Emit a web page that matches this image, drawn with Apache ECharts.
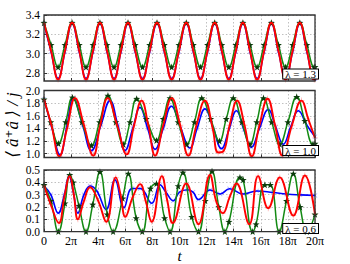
<!DOCTYPE html>
<html><head><meta charset="utf-8">
<script src="https://cdn.jsdelivr.net/npm/echarts@6/dist/echarts.min.js"></script>
<style>html,body{margin:0;padding:0;background:#fff}#c{width:350px;height:264px}</style>
</head><body><div id="c"></div>
<script>
// x in units of pi
const xTicks = [0,2,4,6,8,10,12,14,16,18,20];
const xTickLabels = ['0','2π','4π','6π','8π','10π','12π','14π','16π','18π','20π'];
const yTicks1 = [2.8,3.0,3.2,3.4];
const yTicks2 = [1.0,1.2,1.4,1.6,1.8,2.0];
const yTicks3 = [0.0,0.1,0.2,0.3,0.4,0.5];
const lambdas = ['1.3','1.0','0.6'];

// Panel 1 (lambda = 1.3)
const red1 = [[0,3.32],[0.52,3.03],[1.04,2.73],[1.55,3.03],[2.07,3.32],[2.6,3.03],[3.1,2.73],[3.62,3.03],[4.13,3.32],[4.65,3.03],[5.17,2.73],[5.68,3.03],[6.2,3.32],[6.73,3.03],[7.27,2.73],[7.8,3.03],[8.34,3.32],[8.88,3.03],[9.42,2.73],[9.96,3.03],[10.5,3.32],[11.02,3.03],[11.55,2.73],[12.07,3.03],[12.6,3.32],[13.12,3.03],[13.64,2.73],[14.16,3.03],[14.68,3.32],[15.2,3.03],[15.73,2.73],[16.25,3.03],[16.78,3.32],[17.3,3.03],[17.83,2.73],[18.35,3.03],[18.88,3.32],[19.4,3.03],[19.94,2.73],[20,2.731]];
const blue1 = [[0,3.31],[0.52,3.02],[1.04,2.74],[1.55,3.02],[2.07,3.31],[2.6,3.02],[3.1,2.74],[3.62,3.02],[4.13,3.31],[4.65,3.02],[5.17,2.74],[5.68,3.02],[6.2,3.31],[6.73,3.02],[7.27,2.74],[7.8,3.02],[8.34,3.31],[8.88,3.02],[9.42,2.74],[9.96,3.02],[10.5,3.31],[11.02,3.02],[11.55,2.74],[12.07,3.02],[12.6,3.31],[13.12,3.02],[13.64,2.74],[14.16,3.02],[14.68,3.31],[15.2,3.02],[15.73,2.74],[16.25,3.02],[16.78,3.31],[17.3,3.02],[17.83,2.74],[18.35,3.02],[18.88,3.31],[19.4,3.02],[19.94,2.74],[20,2.741]];
const green1 = [[0,3.32],[0.52,3.09],[1.04,2.86],[1.55,3.09],[2.07,3.32],[2.6,3.09],[3.1,2.86],[3.62,3.09],[4.13,3.32],[4.65,3.09],[5.17,2.86],[5.68,3.09],[6.2,3.32],[6.73,3.09],[7.27,2.86],[7.8,3.09],[8.34,3.32],[8.88,3.09],[9.42,2.86],[9.96,3.09],[10.5,3.32],[11.02,3.09],[11.55,2.86],[12.07,3.09],[12.6,3.32],[13.12,3.09],[13.64,2.86],[14.16,3.09],[14.68,3.32],[15.2,3.09],[15.73,2.86],[16.25,3.09],[16.78,3.32],[17.3,3.09],[17.83,2.86],[18.35,3.09],[18.88,3.32],[19.4,3.09],[19.94,2.86],[20,2.861]];

// Panel 2 (lambda = 1.0)
const red2 = [[0,1.86],[0.55,1.45],[1.13,0.96],[1.7,1.4],[2.29,1.88],[2.95,1.45],[3.64,0.97],[4.15,1.45],[4.7,1.88],[5.4,1.45],[6.1,0.99],[6.65,1.45],[7.2,1.84],[7.7,1.45],[8.2,0.97],[8.8,1.45],[9.42,1.88],[10.05,1.45],[10.65,0.97],[11.25,1.45],[11.87,1.84],[12.45,1.4],[12.85,1.02],[13.2,1.03],[13.7,1.45],[14.25,1.84],[14.8,1.45],[15.33,0.96],[15.9,1.45],[16.5,1.87],[17.05,1.45],[17.6,0.97],[18.3,1.45],[19.0,1.84],[19.5,1.55],[20,1.25]];
const blue2 = [[0,1.86],[0.6,1.4],[1.18,0.98],[1.7,1.45],[2.16,1.88],[2.85,1.45],[3.5,1.05],[4.2,1.45],[4.87,1.84],[5.45,1.45],[5.98,1.05],[6.55,1.4],[7.08,1.73],[7.65,1.4],[8.2,1.07],[8.8,1.4],[9.4,1.75],[10.1,1.4],[10.77,1.09],[11.3,1.4],[11.88,1.71],[12.5,1.4],[13.1,1.08],[13.65,1.38],[14.2,1.68],[14.75,1.38],[15.3,1.1],[15.9,1.4],[16.55,1.7],[17.1,1.42],[17.66,1.15],[18.2,1.42],[18.77,1.68],[19.4,1.45],[20,1.27]];
const green2 = [[0,1.86],[0.5,1.5],[1.06,1.16],[1.6,1.5],[2.1,1.89],[2.8,1.5],[3.5,1.13],[4.1,1.5],[4.72,1.92],[5.3,1.5],[5.85,1.15],[6.35,1.5],[6.84,1.87],[7.55,1.55],[8.3,1.21],[8.8,1.55],[9.3,1.88],[9.9,1.5],[10.53,1.15],[11.1,1.5],[11.64,1.88],[12.3,1.55],[12.95,1.2],[13.45,1.55],[13.97,1.88],[14.6,1.5],[15.2,1.15],[15.7,1.5],[16.2,1.88],[16.8,1.5],[17.4,1.15],[18.0,1.5],[18.65,1.9],[19.25,1.52],[19.85,1.15],[20,1.16]];

// Panel 3 (lambda = 0.6)
const red3 = [[0,0.375],[0.5,0.22],[1.1,0.07],[1.5,0.28],[1.9,0.45],[2.2,0.3],[2.5,0.1],[2.95,0.25],[3.4,0.36],[4.0,0.25],[4.6,0.08],[5.3,0.44],[5.65,0.3],[6.0,0.12],[6.55,0.28],[7.1,0.385],[7.5,0.25],[7.95,0.08],[8.7,0.45],[9.1,0.25],[9.5,0.07],[10.5,0.39],[11.4,0.06],[12.25,0.46],[12.7,0.25],[13.2,0.15],[13.7,0.28],[14.2,0.39],[15.15,0.06],[15.8,0.45],[16.55,0.19],[17.4,0.44],[18.4,0.13],[19.25,0.455],[20,0.14]];
const blue3 = [[0,0.37],[0.5,0.3],[1.05,0.15],[1.5,0.3],[1.85,0.45],[2.15,0.33],[2.5,0.15],[2.95,0.3],[3.4,0.37],[3.9,0.33],[4.58,0.18],[5.24,0.42],[5.9,0.195],[6.5,0.35],[7.1,0.35],[7.95,0.23],[8.56,0.38],[9.0,0.32],[9.54,0.25],[10.0,0.32],[10.6,0.34],[11.0,0.32],[11.4,0.26],[12.25,0.338],[13.0,0.305],[13.7,0.348],[14.7,0.305],[15.7,0.33],[16.9,0.318],[17.9,0.305],[18.9,0.298],[20,0.293]];
const green3 = [[0,0.38],[0.5,0.25],[1.06,0.0],[1.55,0.23],[1.9,0.46],[2.15,0.4],[2.58,0.21],[3.1,0.0],[3.6,0.22],[4.13,0.485],[4.67,0.14],[5.1,0.0],[5.8,0.27],[6.22,0.47],[6.8,0.11],[7.25,0.0],[7.85,0.35],[8.3,0.39],[8.9,0.11],[9.3,0.0],[9.9,0.37],[10.25,0.48],[10.9,0.12],[11.4,0.0],[11.9,0.25],[12.4,0.49],[12.9,0.2],[13.35,0.0],[13.65,0.08],[14.46,0.44],[14.7,0.42],[15.4,0.0],[15.65,0.06],[16.3,0.38],[16.7,0.38],[17.35,0.0],[17.9,0.25],[18.4,0.47],[18.9,0.2],[19.4,0.0],[20,0.14]];

const FONT = "'Liberation Serif','DejaVu Serif',serif";
const STAR = 'path://M0,-10L2.35,-3.24L9.51,-3.09L3.8,1.24L5.88,8.09L0,4L-5.88,8.09L-3.8,1.24L-9.51,-3.09L-2.35,-3.24Z';
const PLUS = 'path://M-0.7,-5H0.7V-0.7H5V0.7H0.7V5H-0.7V0.7H-5V-0.7H-0.7Z';

const panels = [
  {red: red1, blue: blue1, green: green1, ymin: 2.715, ymax: 3.4, ticks: yTicks1, top: 15, height: 66},
  {red: red2, blue: blue2, green: green2, ymin: 0.94, ymax: 2.0, ticks: yTicks2, top: 90.5, height: 67},
  {red: red3, blue: blue3, green: green3, ymin: 0, ymax: 0.5, ticks: yTicks3, top: 170, height: 67}
];

const grid = [], xAxis = [], yAxis = [], series = [], graphic = [];
const gridLine = {show: true, lineStyle: {color: '#b0b0b0', type: [1.5, 2], width: 0.8}};
panels.forEach((p, i) => {
  grid.push({left: 44, width: 271, top: p.top, height: p.height, show: true, borderColor: '#333', borderWidth: 1.3, backgroundColor: 'transparent', z: 10});
  xAxis.push({
    type: 'value', gridIndex: i, min: 0, max: 20, interval: 2,
    axisLine: {show: false},
    axisTick: {show: true, inside: true, length: 3, lineStyle: {color: '#333'}},
    axisLabel: {show: i === 2, margin: 4, color: '#000', fontFamily: FONT, fontSize: 12, lineHeight: 11,
      formatter: v => xTickLabels[xTicks.indexOf(v)]},
    splitLine: gridLine,
    name: i === 2 ? 't' : '', nameLocation: 'middle', nameGap: 17,
    nameTextStyle: {fontFamily: FONT, fontStyle: 'italic', fontSize: 15, color: '#000', lineHeight: 12}
  });
  yAxis.push({
    type: 'value', gridIndex: i, min: p.ymin, max: p.ymax,
    axisLine: {show: false},
    axisTick: {show: true, inside: true, length: 3, lineStyle: {color: '#333'}, customValues: p.ticks},
    axisLabel: {margin: 4, color: '#000', fontFamily: FONT, fontSize: 11.5, lineHeight: 10, customValues: p.ticks,
      formatter: v => v.toFixed(1)},
    splitLine: gridLine
  });
  series.push(
    {type: 'scatter', xAxisIndex: i, yAxisIndex: i, data: p.blue, symbol: PLUS, symbolRotate: 45, symbolSize: 6,
      itemStyle: {color: 'rgba(100,100,255,0.55)'}, z: 1, silent: true},
    {type: 'scatter', xAxisIndex: i, yAxisIndex: i, data: p.red, symbol: PLUS, symbolSize: 6,
      itemStyle: {color: 'rgba(255,100,100,0.55)'}, z: 1, silent: true},
    {type: 'line', xAxisIndex: i, yAxisIndex: i, data: p.blue, smooth: 0.45, showSymbol: false,
      lineStyle: {color: '#0000ff', width: 1.6}, z: 2},
    {type: 'line', xAxisIndex: i, yAxisIndex: i, data: p.green, smooth: 0.45, showSymbol: true, symbol: STAR, symbolSize: 7,
      itemStyle: {color: '#0b3b0b'}, lineStyle: {color: '#138a13', width: 1.5}, z: 3},
    {type: 'line', xAxisIndex: i, yAxisIndex: i, data: p.red, smooth: 0.45, showSymbol: false,
      lineStyle: {color: '#ff0000', width: 1.9}, z: 4}
  );
  graphic.push({
    type: 'text', x: 318, y: p.top + p.height - (i === 2 ? 8.5 : 7), z: 100,
    style: {text: 'λ = ' + lambdas[i], font: '11px ' + FONT, fill: '#000', align: 'right', verticalAlign: 'middle',
      lineHeight: 9, backgroundColor: '#fff', borderColor: '#000', borderWidth: 1, padding: [0, 2, 0, 2]}
  });
});
graphic.push({
  type: 'text', x: 12, y: 125, rotation: Math.PI / 2, z: 100,
  style: {text: '⟨ â⁺â ⟩ / j', font: 'italic 17px ' + FONT, fill: '#000', align: 'center', verticalAlign: 'middle'}
});

const chart = echarts.init(document.getElementById('c'), null, {renderer: 'svg'});
chart.setOption({animation: false, grid, xAxis, yAxis, series, graphic});
</script></body></html>
